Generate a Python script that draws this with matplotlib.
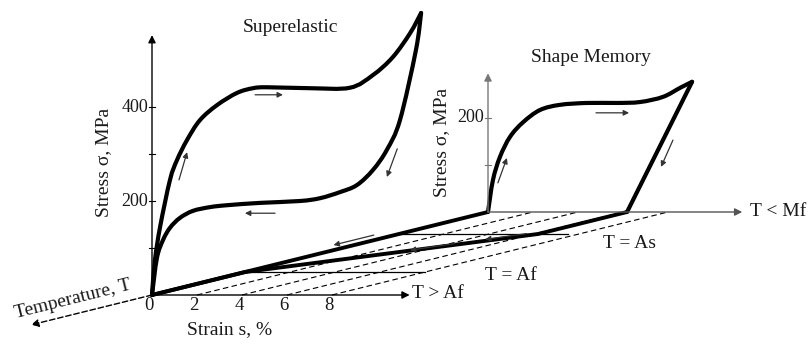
import matplotlib.pyplot as plt
import numpy as np
from matplotlib.path import Path
from matplotlib.patches import PathPatch

plt.rcParams['font.family'] = ['Liberation Serif', 'DejaVu Serif']

# superelastic loop at T > Af  (strain %, stress MPa)
se_load_strain = [0, 0.13, 0.36, 0.8, 1.11, 1.56, 2.13, 2.89, 3.78, 4.49, 5.11, 7.02, 8.8, 9.82, 10.7, 11.47, 11.96]
se_load_stress = [0, 74, 145, 245, 287, 330, 372, 404, 430, 440, 442, 440, 441, 468, 506, 557, 600]
se_unload_strain = [11.96, 11.73, 11.02, 10.44, 9.82, 9.11, 8.36, 7.47, 6.58, 4.8, 3.33, 2.58, 1.82, 1.24, 0.8, 0.49, 0.22, 0]
se_unload_stress = [600, 521, 372, 309, 266, 234, 219, 206, 200, 196, 191, 187, 179, 164, 143, 117, 79, 0]

# shape memory loop at T < Mf
sm_load_strain = [0, 0.22, 0.53, 0.98, 1.56, 2.31, 3.2, 4.4, 5.73, 6.76, 7.78, 8.53, 9.07]
sm_load_stress = [0, 68, 117, 160, 191, 217, 228, 232, 232, 234, 245, 264, 277]
sm_unload_strain = [9.07, 6.18]
sm_unload_stress = [277, 0]

# strain recovery on heating (strain %, temperature plane position 0 = front, 1 = back)
rec_strain = [6.18, 6.18, 0, 0]
rec_temp = [1.0, 0.735, 0.277, 0]

planes = {'T > Af': 0.0, 'T = Af': 0.277, 'T = As': 0.735, 'T < Mf': 1.0}
strain_ticks = [0, 2, 4, 6, 8]
hatch_strain = [2, 4, 6, 8]
se_stress_ticks = [100, 200, 300, 400]
se_stress_labels = [200, 400]
sm_stress_ticks = [100, 200]
sm_stress_labels = [200]

# oblique projection of (strain, stress, temperature) onto the page
ORIGIN = (152, 295)
PX_STRAIN = 22.5
PX_STRESS = 0.47
T_VEC = (336, -83)


def proj(s, sig, t):
    s = np.asarray(s, float)
    sig = np.asarray(sig, float)
    t = np.asarray(t, float)
    x = ORIGIN[0] + s * PX_STRAIN + t * T_VEC[0]
    y = ORIGIN[1] - sig * PX_STRESS + t * T_VEC[1]
    return x, y


def smooth_path(x, y):
    # Catmull-Rom curve through the read points, drawn as cubic Beziers
    pts = np.column_stack([x, y])
    n = len(pts)
    verts = [pts[0]]
    codes = [Path.MOVETO]
    for i in range(n - 1):
        p0 = pts[i - 1] if i > 0 else pts[i]
        p1, p2 = pts[i], pts[i + 1]
        p3 = pts[i + 2] if i + 2 < n else pts[i + 1]
        verts += [p1 + (p2 - p0) / 6, p2 - (p3 - p1) / 6, p2]
        codes += [Path.CURVE4] * 3
    return Path(verts, codes)


fig = plt.figure(figsize=(8.11, 3.45), dpi=100)
ax = fig.add_axes([0, 0, 1, 1])
ax.set_xlim(0, 811)
ax.set_ylim(345, 0)
ax.axis('off')

txt = '#1a1a1a'
fs = 14


def arrow(p0, p1, lw=1.0, ms=11, color='k', ls='-'):
    ax.annotate('', xy=p1, xytext=p0,
                arrowprops=dict(arrowstyle='-|>', lw=lw, color=color, ls=ls,
                                mutation_scale=ms, shrinkA=0, shrinkB=0))


# hatch lines across the temperature planes
for s in hatch_strain:
    x, y = proj([s, s], [0, 0], [0, 1])
    ax.plot(x, y, color='k', lw=0.8, dashes=(5, 3))

# plane lines at intermediate temperatures
x, y = proj([0, 8], [0, 0], [planes['T = Af']] * 2)
ax.plot(x, y, color='k', lw=0.9)
x, y = proj([0, 7.5], [0, 0], [planes['T = As']] * 2)
ax.plot(x, y, color='k', lw=0.9)

# strain axes
arrow(proj(0, 0, 0), proj(11.45, 0, 0), lw=1.0)
arrow(proj(0, 0, 1), proj(11.3, 0, 1), lw=1.0, color='#555555')

# temperature axis (front dashed part)
arrow(proj(0, 0, 0), proj(0, 0, -0.36), lw=1.0, ls=(0, (4, 2)))

# stress axes
arrow(proj(0, 0, 0), proj(0, 553, 0), lw=1.0)
arrow(proj(0, 0, 1), proj(0, 295, 1), lw=1.0, color='#777777')
for v in se_stress_ticks:
    x, y = proj(0, v, 0)
    ax.plot([x - 3, x + 3], [y, y], color='k', lw=0.8)
for v in sm_stress_ticks:
    x, y = proj(0, v, 1)
    ax.plot([x - 3, x + 3], [y, y], color='#777777', lw=0.8)
for v in se_stress_labels:
    x, y = proj(0, v, 0)
    ax.text(x - 4, y, str(v), ha='right', va='center', fontsize=13, color=txt)
for v in sm_stress_labels:
    x, y = proj(0, v, 1)
    ax.text(x - 4, y, str(v), ha='right', va='center', fontsize=13, color=txt)
for s in strain_ticks:
    x, y = proj(s, 0, 0)
    ax.text(x - 3, y + 11, str(s), ha='center', va='center', fontsize=13.5, color=txt)

# thick recovery path and zero strain line
x, y = proj([0, 0], [0, 0], [1, 0])
ax.plot(x, y, color='k', lw=2.8, solid_capstyle='round')
x, y = proj(rec_strain, [0] * 4, rec_temp)
ax.plot(x, y, color='k', lw=2.8, solid_joinstyle='round', solid_capstyle='round')

# hysteresis loops
for xs, ys, t in [(se_load_strain, se_load_stress, 0), (se_unload_strain, se_unload_stress, 0),
                  (sm_load_strain, sm_load_stress, 1), (sm_unload_strain, sm_unload_stress, 1)]:
    x, y = proj(xs, ys, t)
    ax.add_patch(PathPatch(smooth_path(x, y), fill=False, edgecolor='k', lw=3.0,
                           joinstyle='round', capstyle='round'))

# direction arrows on the curves
small = dict(lw=0.9, ms=8, color='#333333')
arrow(proj(1.2, 245, 0), proj(1.56, 304, 0), **small)
arrow(proj(4.58, 426, 0), proj(5.82, 426, 0), **small)
arrow(proj(5.47, 174, 0), proj(4.13, 174, 0), **small)
arrow(proj(10.9, 311, 0), proj(10.44, 251, 0), **small)
arrow(proj(0.44, 62, 1), proj(0.84, 115, 1), **small)
arrow(proj(4.8, 211, 1), proj(6.27, 211, 1), **small)
arrow(proj(8.22, 153, 1), proj(7.69, 96, 1), **small)
arrow(proj(0.6, 18, 0.62), proj(0.6, 18, 0.5), **small)
arrow(proj(4.2, 0, 0.62), proj(3.4, 0, 0.54), **small)
arrow(proj(5.6, 0, 0.74), proj(4.8, 0, 0.67), **small)

# labels
ax.text(290, 28, 'Superelastic', ha='center', va='center', fontsize=fs, color=txt)
ax.text(591, 58, 'Shape Memory', ha='center', va='center', fontsize=fs, color=txt)
ax.text(104, 162, 'Stress σ, MPa', ha='center', va='center', rotation=90, fontsize=fs, color=txt)
ax.text(442, 142, 'Stress σ, MPa', ha='center', va='center', rotation=90, fontsize=fs, color=txt)
ax.text(230, 330, 'Strain s, %', ha='center', va='center', fontsize=fs, color=txt)
ax.text(73, 299, 'Temperature, T', ha='center', va='center', rotation=14, fontsize=fs, color=txt)
label_pos = {'T > Af': (412, 293), 'T = Af': (485, 275), 'T = As': (603, 243), 'T < Mf': (750, 212)}
for name, (lx, ly) in label_pos.items():
    ax.text(lx, ly, name, ha='left', va='center', fontsize=fs, color=txt)

fig.savefig('out.png', dpi=100)
